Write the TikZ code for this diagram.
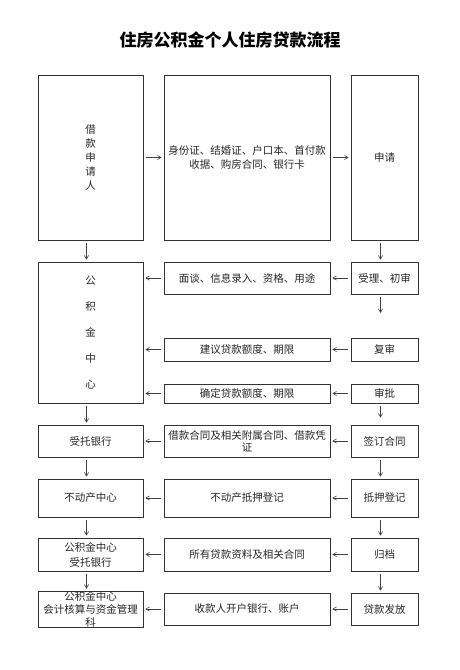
\documentclass[tikz,border=0pt]{standalone}
\usepackage{fontspec}
\setmainfont{Noto Sans CJK SC}
\usetikzlibrary{arrows}
\tikzstyle{box} = [draw=black!80, line width=0.7pt, inner sep=0pt, align=center, text=black!85, font=\fontsize{10.5}{14}\selectfont]
\tikzstyle{flow} = [->, >=angle 60, black!75, line width=0.6pt, shorten <=3pt, shorten >=2pt]

\begin{document}
\begin{tikzpicture}[x=1pt,y=-1pt]
\useasboundingbox (0,0) rectangle (460,670);
\node[font=\bfseries\fontsize{17}{20}\selectfont] (title) at (230,40) {住房公积金个人住房贷款流程};

% first row
\node[box, minimum width=105pt, minimum height=165pt] (applicant) at (90.5,157.5) {借\\款\\申\\请\\人};
\node[box, minimum width=166pt, minimum height=165pt] (docs) at (247,157.5) {身份证、结婚证、户口本、首付款\\收据、购房合同、银行卡};
\node[box, minimum width=67pt, minimum height=165pt] (apply) at (384.5,157.5) {申请};

% centre and its steps
\node[box, minimum width=105pt, minimum height=141pt, font=\fontsize{10.5}{26}\selectfont] (center) at (90.5,332.5) {公\\积\\金\\中\\心};
\node[box, minimum width=166pt, minimum height=32pt] (interview) at (247,278) {面谈、信息录入、资格、用途};
\node[box, minimum width=67pt, minimum height=32pt] (accept) at (384.5,278) {受理、初审};
\coordinate (acceptout) at (380.5,313);
\node[box, minimum width=166pt, minimum height=23pt] (suggest) at (247,349.5) {建议贷款额度、期限};
\node[box, minimum width=67pt, minimum height=23pt] (review) at (384.5,349.5) {复审};
\node[box, minimum width=166pt, minimum height=19pt] (confirm) at (247,393.5) {确定贷款额度、期限};
\node[box, minimum width=67pt, minimum height=19pt] (approve) at (384.5,393.5) {审批};

% lower rows
\node[box, minimum width=105pt, minimum height=32pt] (bank) at (90.5,441) {受托银行};
\node[box, minimum width=166pt, minimum height=32pt, font=\fontsize{10.5}{12}\selectfont] (contract) at (247,441) {借款合同及相关附属合同、借款凭\\证};
\node[box, minimum width=67pt, minimum height=32pt] (sign) at (384.5,441) {签订合同};

\node[box, minimum width=105pt, minimum height=38pt] (estate) at (90.5,498) {不动产中心};
\node[box, minimum width=166pt, minimum height=38pt] (register) at (247,498) {不动产抵押登记};
\node[box, minimum width=67pt, minimum height=38pt] (mortgage) at (384.5,498) {抵押登记};

\node[box, minimum width=105pt, minimum height=33pt, font=\fontsize{10.5}{15}\selectfont] (centerbank) at (90.5,554.5) {公积金中心\\受托银行};
\node[box, minimum width=166pt, minimum height=33pt] (allfiles) at (247,554.5) {所有贷款资料及相关合同};
\node[box, minimum width=67pt, minimum height=33pt] (archive) at (384.5,554.5) {归档};

\node[box, minimum width=105pt, minimum height=32pt, font=\fontsize{10.5}{13}\selectfont] (account) at (90.5,609) {公积金中心\\会计核算与资金管理\\科};
\node[box, minimum width=166pt, minimum height=32pt] (payee) at (247,609) {收款人开户银行、账户};
\node[box, minimum width=67pt, minimum height=32pt] (release) at (384.5,609) {贷款发放};

% connectors
\draw[flow] (applicant.east) -- (docs.west);
\draw[flow] (docs.east) -- (apply.west);
\draw[flow] ([xshift=-4pt]applicant.south) -- ([xshift=-4pt]center.north);
\draw[flow] ([xshift=-4pt]apply.south) -- ([xshift=-4pt]accept.north);
\draw[flow] (accept.west) -- (interview.east);
\draw[flow] (interview.west) -- (interview.west -| center.east);
\draw[flow, shorten >=0pt] ([xshift=-4pt]accept.south) -- (acceptout);
\draw[flow] (review.west) -- (suggest.east);
\draw[flow] (suggest.west) -- (suggest.west -| center.east);
\draw[flow] (approve.west) -- (confirm.east);
\draw[flow] (confirm.west) -- (confirm.west -| center.east);
\draw[flow, shorten >=7pt] ([xshift=-4pt]approve.south) -- ([xshift=-4pt]sign.north);
\draw[flow] ([xshift=-4pt]center.south) -- ([xshift=-4pt]bank.north);

\draw[flow] (sign.west) -- (contract.east);
\draw[flow] (contract.west) -- (bank.east);
\draw[flow] (mortgage.west) -- (register.east);
\draw[flow] (register.west) -- (estate.east);
\draw[flow] (archive.west) -- (allfiles.east);
\draw[flow] (allfiles.west) -- (centerbank.east);
\draw[flow] (release.west) -- (payee.east);
\draw[flow] (payee.west) -- (account.east);

\draw[flow] ([xshift=-4pt]bank.south) -- ([xshift=-4pt]estate.north);
\draw[flow] ([xshift=-4pt]estate.south) -- ([xshift=-4pt]centerbank.north);
\draw[flow] ([xshift=-4pt]centerbank.south) -- ([xshift=-4pt]account.north);
\draw[flow] ([xshift=-4pt]sign.south) -- ([xshift=-4pt]mortgage.north);
\draw[flow] ([xshift=-4pt]mortgage.south) -- ([xshift=-4pt]archive.north);
\draw[flow] ([xshift=-4pt]archive.south) -- ([xshift=-4pt]release.north);
\end{tikzpicture}
\end{document}
